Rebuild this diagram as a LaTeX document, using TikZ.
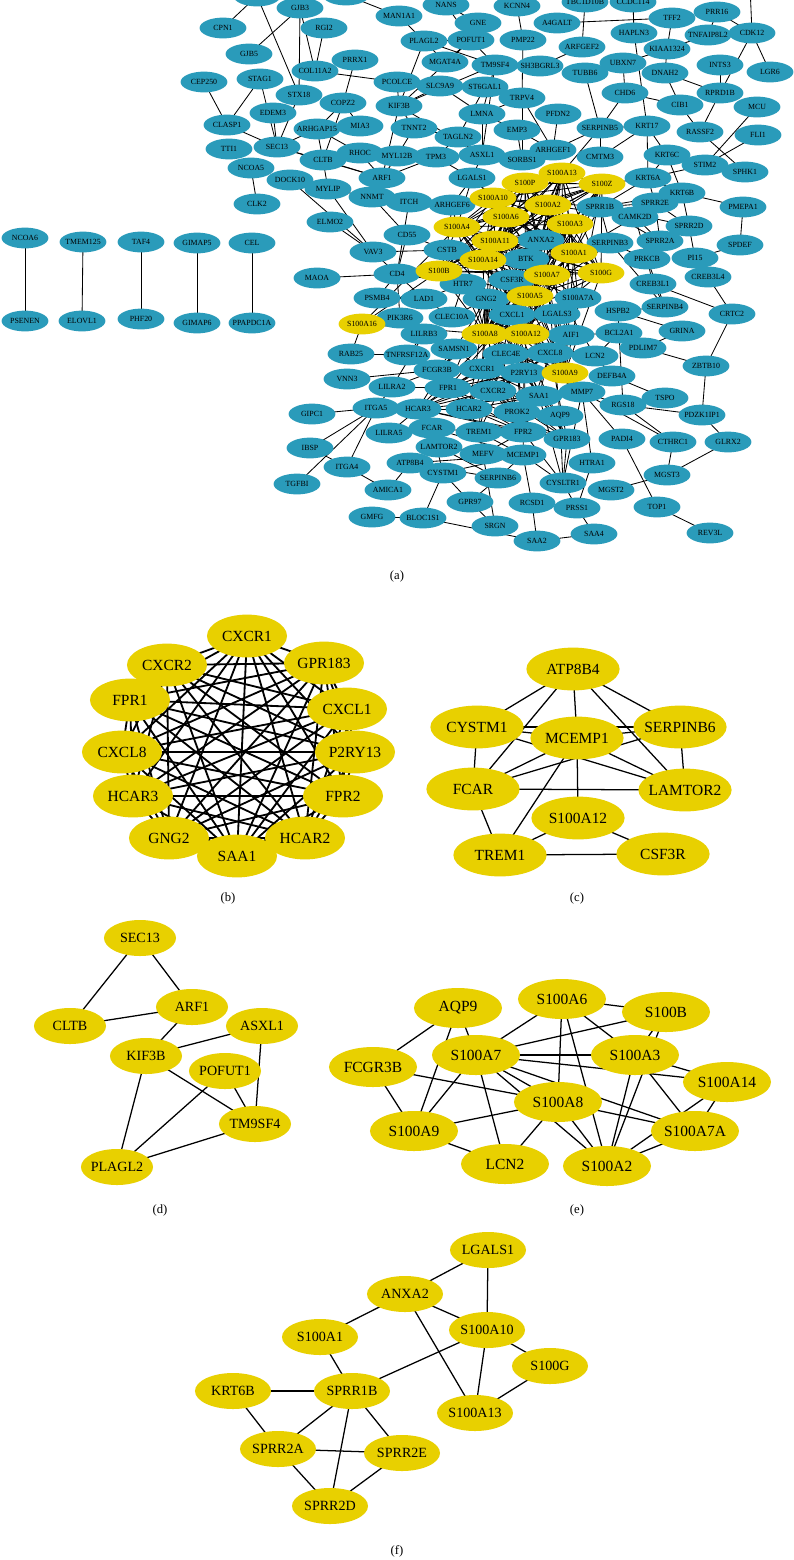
\documentclass[tikz,border=0pt]{standalone}
\usepackage{fontspec}
\setmainfont{Liberation Serif}
\usepackage{tikz}
\usetikzlibrary{shapes.geometric, backgrounds}
\pgfdeclarelayer{paper}
\pgfsetlayers{paper,background,main}
\definecolor{netblue}{RGB}{42,155,186}
\definecolor{netyellow}{RGB}{232,208,0}
\newcommand\sgroup{S100A13,S100P,S100Z,S100A10,S100A2,S100A6,S100A3,S100A4,S100A11,S100A1,S100A14,S100B,S100A7,S100G,S100A5,S100A8,S100A12,S100A9}
\newcommand\cgroup{CXCR1,CXCR2,GPR183,FPR1,CXCL1,P2RY13,CXCL8,HCAR3,FPR2,GNG2,HCAR2,SAA1}
\tikzset{
  gnode/.style={ellipse, fill=netblue, minimum width=1.17cm, minimum height=0.52cm,
    inner sep=0pt, font=\fontsize{5.6}{6}\selectfont},
  ynode/.style={gnode, fill=netyellow},
  bnode/.style={ellipse, fill=netyellow, minimum width=2cm, minimum height=1.07cm,
    inner sep=0pt, font=\fontsize{11}{12}\selectfont},
  cnode/.style={bnode, minimum width=2.33cm, minimum height=1.07cm},
  dnode/.style={bnode, minimum width=1.8cm, minimum height=0.9cm, font=\fontsize{10}{11}\selectfont},
  enode/.style={bnode, minimum width=2.2cm, minimum height=1.0cm},
  fnode/.style={bnode, minimum width=1.9cm, minimum height=0.9cm, font=\fontsize{10}{11}\selectfont},
  link/.style={line width=0.6pt, black},
  thicklink/.style={line width=1.3pt, black},
  midlink/.style={line width=0.9pt, black},
  panel/.style={font=\fontsize{9}{10}\selectfont}
}

\begin{document}
\begin{tikzpicture}[x=0.025cm, y=-0.025cm]
  \path[use as bounding box] (0,0) rectangle (794,1560);
  \begin{pgfonlayer}{paper}
    \fill[white] (0,0) rectangle (794,1560);
  \end{pgfonlayer}
  % (a) whole network, blue genes
  \node[gnode] (atopL) at (257,-4) {};
  \node[gnode] (atopM) at (346,-5) {};
  \coordinate (atopR) at (750,-14);
  \foreach \n/\x/\y in {GJB3/300/8, CPN1/223/28, RGI2/324/28, MAN1A1/399/16, NANS/446/5,
      GNE/478/23, KCNN4/517/6, PMP22/523/40, A4GALT/557/23, TBC1D10B/585/2, CCDC114/633/2,
      TFF2/672/18, PRR16/717/12, HAPLN3/634/33, TNFAIP8L2/708/35, CDK12/752/33, ARFGEF2/582/47,
      PLAGL2/424/41, POFUT1/471/40, KIAA1324/667/49, UBXN7/623/63, DNAH2/665/73, INTS3/720/65,
      LGR6/770/72, TUBB6/585/73, CHD6/625/93, CIB1/680/105, RPRD1B/720/93, MCU/757/107,
      SERPINB5/600/128, KRT17/647/126, RASSF2/700/132, FLI1/758/135, CMTM3/600/157,
      KRT6C/667/155, STIM2/705/165, SPHK1/745/172, KRT6A/648/178, GJB5/249/54, PRRX1/355/60,
      COL11A2/315/71, CEP250/204/82, STAG1/260/79, STX18/299/95, COPZ2/343/103, EDEM3/273/113,
      CLASP1/227/125, ARHGAP15/317/129, MIA3/360/126, TTI1/229/149, SEC13/277/147, RHOC/360/153,
      CLTB/323/160, NCOA5/251/168, DOCK10/290/180, CLK2/257/204, MGAT4A/445/62, TM9SF4/495/65,
      SH3BGRL3/540/66, PCOLCE/397/82, SLC9A9/440/86, ST6GAL1/485/87, TRPV4/522/98, KIF3B/399/106,
      LMNA/482/114, PFDN2/558/114, TNNT2/414/128, EMP3/517/130, TAGLN2/458/137, MYL12B/397/156,
      TPM3/436/157, ASXL1/482/155, SORBS1/522/160, ARHGEF1/553/150, ARF1/382/178, LGALS1/472/178,
      MYLIP/328/189, NNMT/372/197, ITCH/409/202, ARHGEF6/452/205, ELMO2/330/222, CD55/407/235,
      VAV3/373/252, CSTB/447/250, CD4/397/274, MAOA/317/278, HTR7/463/284, CSF3R/512/280,
      PSMB4/377/298, LAD1/424/299, GNG2/486/299, PIK3R6/400/318, CLEC10A/452/317, CXCL1/512/315,
      LILRB3/424/334, KRT6B/682/193, PMEPA1/743/207, SPRR1B/600/207, SPRR2E/655/203,
      CAMK2D/635/217, SPRR2D/689/226, ANXA2/541/240, SERPINB3/610/243, SPRR2A/660/241,
      SPDEF/740/245, BTK/526/259, PRKCB/647/259, PI15/695/258, CREB3L4/708/277, CREB3L1/653/284,
      S100A7A/578/298, HSPB2/618/311, SERPINB4/665/307, CRTC2/732/314, LGALS3/557/314,
      GRINA/682/331, AIF1/571/335, BCL2A1/619/333, SAMSN1/454/349, CLEC4E/506/354, CXCL8/550/353,
      LCN2/595/356, PDLIM7/643/348, ZBTB10/706/366, CXCR1/482/369, P2RY13/524/373, DEFB4A/612/376,
      CXCR2/493/391, MMP7/582/392, SAA1/539/396, TSPO/665/398, RGS18/623/405, HCAR2/469/409,
      PROK2/517/412, AQP9/560/416, PDZK1IP1/702/415, TREM1/479/432, FPR2/523/432, GPR183/567/439,
      PADI4/622/439, CTHRC1/673/442, GLRX2/728/442, MEFV/483/454, MCEMP1/523/455, HTRA1/592/463,
      MGST3/667/475, SERPINB6/498/478, CYSLTR1/563/483, MGST2/611/490, GPR97/470/502,
      RCSD1/532/503, PRSS1/577/508, TOP1/657/507, SRGN/495/526, SAA2/537/541, SAA4/594/534,
      REV3L/710/533, RAB25/351/354, TNFRSF12A/407/355, FCGR3B/437/370, VNN3/347/379,
      LILRA2/392/387, FPR1/448/388, GIPC1/312/414, ITGA5/376/408, HCAR3/418/409, LILRA5/389/433,
      FCAR/432/428, IBSP/310/448, LAMTOR2/439/447, ITGA4/347/467, ATP8B4/410/463, CYSTM1/443/473,
      TGFBI/297/484, AMICA1/388/490, GMFG/372/517, BLOC1S1/423/518, NCOA6/25/238,
      TMEM125/83/242, TAF4/141/242, GIMAP5/197/243, CEL/252/243, PSENEN/25/321, ELOVL1/82/321,
      PHF20/141/319, GIMAP6/197/323, PPAPDC1A/252/323}
    \node[gnode] (a\n) at (\x,\y) {\makebox[0pt]{\n}};
  % (a) S100 genes, yellow
  \foreach \n/\x/\y in {S100A13/562/173, S100P/525/183, S100Z/602/184, S100A10/493/198,
      S100A2/548/205, S100A6/506/217, S100A3/570/224, S100A4/457/227, S100A11/495/241,
      S100A1/574/253, S100A14/483/260, S100B/439/271, S100A7/547/275, S100G/601/273,
      S100A5/530/296, S100A16/362/324, S100A8/485/334, S100A12/526/334, S100A9/565/373}
    \node[ynode] (a\n) at (\x,\y) {\makebox[0pt]{\n}};
  \begin{scope}[on background layer]
    % outer links
    \foreach \u/\v in {topL/CPN1, topL/STX18, GJB3/GJB5, GJB3/COL11A2, GJB3/STX18, RGI2/COL11A2,
        topM/MAN1A1, MAN1A1/PLAGL2, NANS/GNE, NANS/POFUT1, KCNN4/PMP22, A4GALT/TFF2,
        TBC1D10B/ARFGEF2, CCDC114/HAPLN3, TFF2/KIAA1324, PRR16/TNFAIP8L2, PRR16/CDK12,
        TNFAIP8L2/KIAA1324, topR/CDK12, CDK12/RPRD1B, CDK12/LGR6, INTS3/RPRD1B, UBXN7/KIAA1324,
        UBXN7/CHD6, HAPLN3/KRT17, KIAA1324/DNAH2, DNAH2/CIB1, DNAH2/RPRD1B, CHD6/CIB1,
        CHD6/SERPINB5, CIB1/RASSF2, RPRD1B/RASSF2, MCU/STIM2, FLI1/STIM2, RASSF2/SPHK1,
        KRT17/SERPINB5, KRT17/KRT6C, KRT17/KRT6A, KRT17/CMTM3, SERPINB5/CMTM3, SERPINB5/ARHGEF1,
        SERPINB5/S100A13, KRT6C/STIM2, KRT6C/KRT6A, KRT6C/KRT6B, KRT6A/STIM2, TUBB6/SERPINB5,
        ARFGEF2/SH3BGRL3, CEP250/CLASP1, STAG1/CLASP1, STAG1/SEC13, EDEM3/SEC13, STX18/SEC13,
        COL11A2/PCOLCE, PRRX1/COPZ2, COPZ2/ARHGAP15, COPZ2/CLTB, ARHGAP15/SEC13, ARHGAP15/CLTB,
        ARHGAP15/RHOC, CLASP1/SEC13, NCOA5/CLK2, DOCK10/VAV3, CLTB/RHOC, CLTB/MYLIP, RHOC/ARF1,
        COPZ2/MIA3, PLAGL2/MGAT4A, POFUT1/MGAT4A, PMP22/TRPV4, TM9SF4/LMNA, PCOLCE/SLC9A9,
        PCOLCE/KIF3B, SLC9A9/KIF3B, SLC9A9/LMNA, ST6GAL1/TAGLN2, TRPV4/LMNA, TRPV4/ARHGEF1,
        TRPV4/SORBS1, PFDN2/ARHGEF1, KIF3B/TNNT2, TNNT2/TAGLN2, TNNT2/MYL12B, TAGLN2/TPM3,
        TAGLN2/ASXL1, LMNA/EMP3, LMNA/ASXL1, EMP3/SORBS1, EMP3/ARHGEF1, ASXL1/SORBS1, ASXL1/LGALS1,
        MYL12B/TPM3, MYL12B/ARF1, TPM3/LGALS1, TPM3/ARF1, MYLIP/NNMT, ARF1/NNMT, NNMT/ITCH,
        NNMT/CD55, ITCH/ARHGEF6, ITCH/CD4, ARHGEF6/CSTB, ARHGEF6/LGALS1, ELMO2/VAV3, MYLIP/VAV3,
        VAV3/CD4, VAV3/CSTB, CD55/CD4, CD55/CSTB, MAOA/CD4, CD4/HTR7, CD4/LAD1, CD4/PSMB4,
        CD4/PIK3R6, LAD1/HTR7, PSMB4/LAD1, PIK3R6/LILRB3, CLEC10A/LAD1, CLEC10A/HTR7, CLEC10A/GNG2,
        RAB25/S100A16, RAB25/TNFRSF12A, VNN3/FCGR3B, LILRA2/FCGR3B, LILRA2/LILRB3, ITGA5/GIPC1,
        ITGA5/IBSP, ITGA5/TGFBI, ITGA5/ITGA4, ITGA5/LILRA2, ITGA5/HCAR3, IBSP/ITGA4, ITGA4/AMICA1,
        AMICA1/ATP8B4, GMFG/BLOC1S1, BLOC1S1/CYSTM1, BLOC1S1/SAA2, LILRA5/FCAR, TNFRSF12A/LILRB3,
        SAMSN1/LILRB3, SAMSN1/FCGR3B, FCGR3B/FPR1, PDLIM7/ZBTB10, CRTC2/ZBTB10, CRTC2/CREB3L4,
        CRTC2/CREB3L1, ZBTB10/PDZK1IP1, PDZK1IP1/RGS18, PDZK1IP1/GLRX2, GLRX2/MGST3, CTHRC1/MGST3,
        CTHRC1/RGS18, TOP1/REV3L, PADI4/TOP1, MGST3/MGST2, CYSLTR1/MCEMP1, CYSLTR1/GPR183,
        CYSLTR1/FPR2, CYSLTR1/MMP7, CYSLTR1/PRSS1, CYSLTR1/AQP9, CYSLTR1/SAA1, PRSS1/SAA4,
        SAA4/SAA2, RCSD1/SAA2, RCSD1/MCEMP1, HTRA1/PRSS1, HTRA1/MMP7, SRGN/GPR97, SRGN/MEFV,
        GPR97/SERPINB6, GPR97/CYSTM1, MMP7/DEFB4A, MMP7/RGS18, MMP7/PADI4, MMP7/CTHRC1, DEFB4A/TSPO,
        BCL2A1/RGS18, LCN2/BCL2A1, LCN2/DEFB4A, AIF1/BCL2A1, HSPB2/SERPINB4, HSPB2/GRINA,
        HSPB2/BCL2A1, SERPINB4/CREB3L1, SERPINB4/PRKCB, GRINA/PDLIM7, PI15/CREB3L4, PI15/SPDEF,
        SPDEF/PMEPA1, PMEPA1/KRT6B, PRKCB/CREB3L1, PRKCB/SERPINB3, SPRR2D/PI15, TSPO/RGS18}
      \draw[link] (a\u.center) -- (a\v.center);
    % core links
    \foreach \u/\v in {KRT6A/KRT6B, KRT6A/SPRR2E, KRT6A/SPRR1B, KRT6A/S100Z, KRT6B/SPRR2E,
        KRT6B/SPRR1B, KRT6B/SPRR2D, SPRR2E/SPRR2A, SPRR2E/SPRR2D, SPRR2E/SPRR1B, SPRR2A/SPRR1B,
        SPRR2A/SPRR2D, SPRR1B/SPRR2D, SPRR1B/S100A1, CAMK2D/S100A1, CAMK2D/S100A10, CAMK2D/SPRR2A,
        CAMK2D/PRKCB, SERPINB3/SERPINB4, SERPINB3/S100A8, SERPINB3/SPRR1B, ANXA2/S100A10,
        ANXA2/LGALS1, ANXA2/S100A1, ANXA2/S100A13, S100A10/SPRR1B, LGALS1/S100A10, LGALS1/S100A4,
        ARHGEF6/S100A4, CSTB/S100A8, CSTB/S100A9, CSTB/S100A14, BTK/S100A8, BTK/CSF3R, BTK/S100A7,
        CSF3R/S100A12, CSF3R/TREM1, CSF3R/FPR2, HTR7/S100B, GNG2/S100A5, LGALS3/S100A7A,
        LGALS3/S100A8, LGALS3/S100A9, AIF1/S100A8, AIF1/S100A12, S100A7A/S100A7, S100A7A/S100A3,
        S100A7A/S100A2, S100A7A/S100A14, S100A7A/S100A8, S100A16/S100A8, S100A16/S100A4,
        S100A16/S100B, CLEC4E/FPR1, CLEC4E/CXCR2, SAMSN1/CXCR1, AQP9/S100A7, AQP9/S100A8,
        FCGR3B/S100A8, FCGR3B/S100A7, FCGR3B/S100A9, LCN2/S100A8, LCN2/S100A7, S100A9/MMP7,
        S100A8/TREM1, S100A8/MMP7, S100A12/TREM1, S100A12/MCEMP1, MCEMP1/ATP8B4, MCEMP1/CYSTM1,
        MCEMP1/SERPINB6, MCEMP1/LAMTOR2, MCEMP1/FCAR, MCEMP1/TREM1, FCAR/LAMTOR2, FCAR/TREM1,
        FCAR/CYSTM1, ATP8B4/LAMTOR2, ATP8B4/CYSTM1, ATP8B4/SERPINB6, SERPINB6/LAMTOR2, TREM1/MEFV,
        MEFV/FPR2, PROK2/FPR2, PROK2/CXCR2, PROK2/S100A8, HCAR3/FCAR, HCAR2/TREM1, FPR1/LILRA2,
        LILRA5/HCAR3, SEC13/CLTB, SEC13/ARF1, ARF1/CLTB, ARF1/KIF3B, KIF3B/ASXL1, KIF3B/POFUT1,
        KIF3B/TM9SF4, KIF3B/PLAGL2, POFUT1/TM9SF4, POFUT1/PLAGL2, ASXL1/TM9SF4, PLAGL2/TM9SF4}
      \draw[link] (a\u.center) -- (a\v.center);
    % S100 family and chemokine cliques
    \foreach \u [count=\i] in \sgroup {
      \foreach \v [count=\j] in \sgroup {
        \ifnum\j>\i \draw[link] (a\u.center) -- (a\v.center); \fi
      }
    }
    \foreach \u [count=\i] in \cgroup {
      \foreach \v [count=\j] in \cgroup {
        \ifnum\j>\i \draw[link] (a\u.center) -- (a\v.center); \fi
      }
    }
    % isolated pairs
    \foreach \u/\v in {NCOA6/PSENEN, TMEM125/ELOVL1, TAF4/PHF20, GIMAP5/GIMAP6, CEL/PPAPDC1A}
      \draw[link] (a\u.center) -- (a\v.center);
  \end{scope}
  \node[panel] (labA) at (397,576) {(a)};

  % (b)
  \foreach \n/\x/\y in {CXCR1/247/636, CXCR2/167/665, GPR183/324/663, FPR1/130/700,
      CXCL1/347/709, P2RY13/355/752, CXCL8/122/752, HCAR3/133/796, FPR2/343/796,
      GNG2/169/838, HCAR2/305/838, SAA1/237/856}
    \node[bnode] (b\n) at (\x,\y) {\makebox[0pt]{\n}};
  \begin{scope}[on background layer]
    \foreach \u [count=\i] in \cgroup {
      \foreach \v [count=\j] in \cgroup {
        \ifnum\j>\i \draw[thicklink] (b\u.center) -- (b\v.center); \fi
      }
    }
  \end{scope}
  \node[panel] (labB) at (228,898) {(b)};

  % (c)
  \foreach \n/\x/\y in {ATP8B4/573/669, CYSTM1/477/727, MCEMP1/577/738, SERPINB6/680/727,
      FCAR/473/789, LAMTOR2/685/790, S100A12/578/818, TREM1/500/855, CSF3R/663/854}
    \node[cnode] (c\n) at (\x,\y) {\makebox[0pt]{\n}};
  \begin{scope}[on background layer]
    \foreach \u/\v in {ATP8B4/CYSTM1, ATP8B4/MCEMP1, ATP8B4/SERPINB6, ATP8B4/LAMTOR2, ATP8B4/FCAR,
        CYSTM1/MCEMP1, CYSTM1/SERPINB6, CYSTM1/LAMTOR2, CYSTM1/FCAR, MCEMP1/SERPINB6, MCEMP1/FCAR,
        MCEMP1/LAMTOR2, MCEMP1/TREM1, MCEMP1/S100A12, FCAR/LAMTOR2, FCAR/SERPINB6, FCAR/TREM1,
        SERPINB6/LAMTOR2, S100A12/TREM1, S100A12/CSF3R, TREM1/CSF3R}
      \draw[midlink] (c\u.center) -- (c\v.center);
  \end{scope}
  \node[panel] (labC) at (577,898) {(c)};

  % (d)
  \foreach \n/\x/\y in {SEC13/140/938, ARF1/192/1007, CLTB/70/1026, ASXL1/262/1026,
      KIF3B/146/1056, POFUT1/225/1071, TM9SF4/255/1124, PLAGL2/117/1167}
    \node[dnode] (d\n) at (\x,\y) {\makebox[0pt]{\n}};
  \begin{scope}[on background layer]
    \foreach \u/\v in {SEC13/CLTB, SEC13/ARF1, ARF1/CLTB, ARF1/KIF3B, KIF3B/ASXL1, KIF3B/TM9SF4,
        KIF3B/PLAGL2, POFUT1/TM9SF4, POFUT1/PLAGL2, ASXL1/TM9SF4, PLAGL2/TM9SF4}
      \draw[midlink] (d\u.center) -- (d\v.center);
  \end{scope}
  \node[panel] (labD) at (160,1210) {(d)};

  % (e)
  \foreach \n/\x/\y in {AQP9/458/1008, S100A6/562/999, S100B/666/1012, FCGR3B/373/1067,
      S100A7/476/1055, S100A3/635/1055, S100A14/727/1082, S100A8/558/1102, S100A9/414/1131,
      S100A7A/695/1131, LCN2/505/1164, S100A2/607/1166}
    \node[enode] (e\n) at (\x,\y) {\makebox[0pt]{\n}};
  \begin{scope}[on background layer]
    \foreach \u/\v in {AQP9/FCGR3B, AQP9/S100A9, AQP9/S100A7, S100A6/S100A7, S100A6/S100B,
        S100A6/S100A3, S100A6/S100A8, S100A6/S100A2, S100B/S100A7, S100B/S100A3, S100B/S100A2,
        S100A7/S100A3, S100A7/S100A14, S100A7/S100A8, S100A7/S100A2, S100A7/S100A7A,
        S100A7/S100A9, S100A7/LCN2, FCGR3B/S100A8, FCGR3B/S100A9, S100A9/S100A8, S100A9/LCN2,
        S100A8/LCN2, S100A8/S100A2, S100A3/S100A2, S100A3/S100A7A, S100A3/S100A14,
        S100A14/S100A7A, S100A14/S100A2, S100A7A/S100A2, S100A8/S100A7A}
      \draw[midlink] (e\u.center) -- (e\v.center);
  \end{scope}
  \node[panel] (labE) at (577,1210) {(e)};

  % (f)
  \foreach \n/\x/\y in {LGALS1/488/1250, ANXA2/405/1294, S100A10/487/1330, S100A1/320/1337,
      S100G/550/1366, KRT6B/233/1391, SPRR1B/352/1391, S100A13/475/1413, SPRR2A/278/1449,
      SPRR2E/402/1453, SPRR2D/330/1506}
    \node[fnode] (f\n) at (\x,\y) {\makebox[0pt]{\n}};
  \begin{scope}[on background layer]
    \foreach \u/\v in {LGALS1/S100A10, LGALS1/ANXA2, ANXA2/S100A10, ANXA2/S100A1, ANXA2/S100A13,
        S100A10/S100G, S100A10/SPRR1B, S100A10/S100A13, S100G/S100A13, S100A1/SPRR1B,
        KRT6B/SPRR1B, KRT6B/SPRR2A, SPRR1B/SPRR2A, SPRR1B/SPRR2E, SPRR1B/SPRR2D,
        SPRR2A/SPRR2E, SPRR2A/SPRR2D, SPRR2E/SPRR2D}
      \draw[midlink] (f\u.center) -- (f\v.center);
  \end{scope}
  \node[panel] (labF) at (397,1551) {(f)};
\end{tikzpicture}
\end{document}
